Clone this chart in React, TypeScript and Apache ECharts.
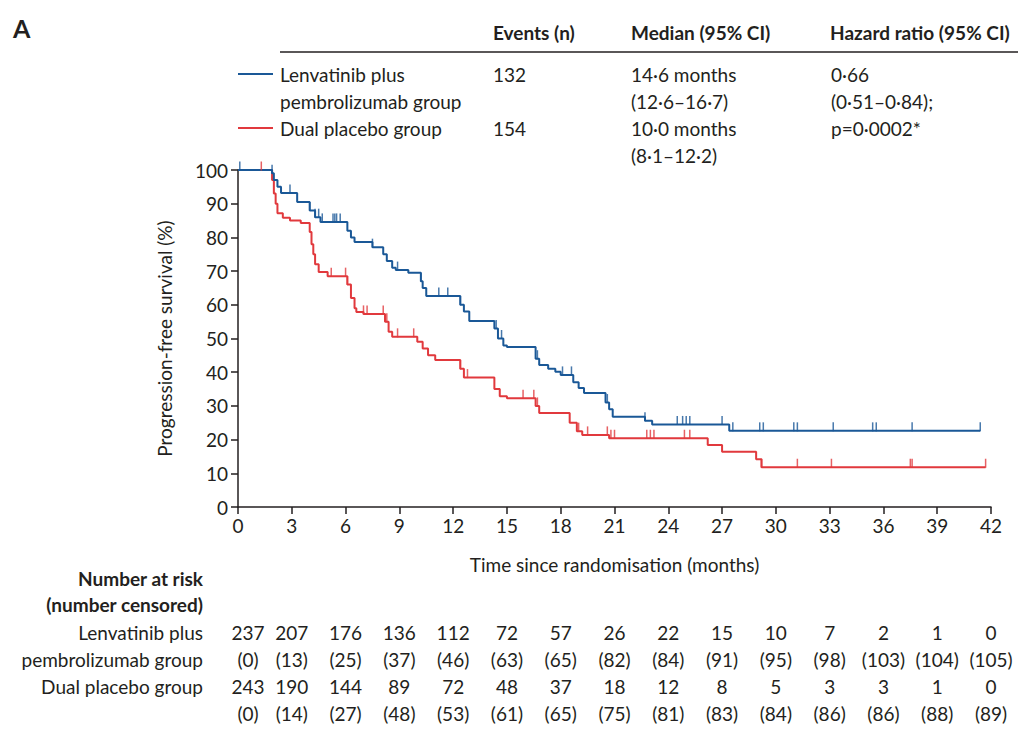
import React, { useEffect, useRef } from "react";
import * as echarts from "echarts";

const BLUE = "#1a5897";
const RED = "#e1393d";
const FONT = "Lato";
const FS = 19;

const xTicks = [0, 3, 6, 9, 12, 15, 18, 21, 24, 27, 30, 33, 36, 39, 42];

const blueTimes = [0, 1.9, 2.0, 2.2, 2.4, 3.3, 4.0, 4.3, 4.6, 6.1, 6.3, 6.5, 7.5, 8.1, 8.3, 8.6, 8.8, 9.5, 10.2, 10.3, 10.5, 12.4, 12.6, 12.9, 14.3, 14.5, 14.8, 15.0, 16.6, 16.8, 17.3, 17.7, 18.0, 18.7, 19.0, 19.3, 20.5, 20.7, 20.9, 22.7, 23.1, 27.4, 41.4];
const blueSurv = [100, 99, 97, 95, 93.2, 90.5, 88, 86, 84.6, 82, 80, 78.6, 77.1, 75, 73, 71, 70.3, 69.5, 67, 65, 62.6, 60, 58, 55.2, 53, 50, 47.9, 47.5, 44, 42.1, 41, 40.1, 39.2, 37, 35.3, 33.8, 31, 29, 26.8, 25.6, 24.5, 22.6, 22.6];

const redTimes = [0, 1.9, 2.0, 2.1, 2.2, 2.5, 2.9, 3.5, 4.0, 4.1, 4.2, 4.3, 4.5, 5.0, 6.1, 6.3, 6.5, 6.6, 7.0, 8.2, 8.4, 8.6, 10.0, 10.3, 10.6, 11.0, 12.4, 12.6, 14.3, 14.6, 15.0, 16.6, 16.8, 18.5, 18.9, 19.2, 20.7, 26.2, 27.0, 28.9, 29.2, 41.7];
const redSurv = [100, 97, 93, 90, 87.2, 85.8, 85, 84.3, 81.6, 78, 75, 72, 69.7, 68.5, 66, 62, 59, 57.9, 57.3, 55, 52, 50.5, 49, 47, 45, 43.6, 41, 38.4, 35, 32.9, 32.3, 30, 27.9, 25, 22.5, 21.4, 20.4, 18.4, 16.4, 14.2, 11.8, 11.8];

const blueCensor = [0.1, 1.9, 2.9, 4.0, 4.3, 4.5, 4.7, 5.3, 5.4, 5.5, 5.7, 7.5, 8.9, 10.2, 11.2, 11.7, 12.4, 14.4, 14.7, 16.7, 18.1, 18.6, 20.6, 22.7, 24.5, 24.8, 25.0, 25.2, 27.0, 27.6, 29.1, 29.3, 31.0, 31.2, 33.2, 35.4, 35.6, 37.6, 41.4];
const redCensor = [1.3, 5.2, 6.0, 6.1, 7.0, 7.2, 8.1, 8.3, 8.9, 9.8, 12.4, 12.8, 15.9, 16.5, 16.7, 19.0, 19.5, 20.6, 20.8, 21.0, 22.8, 23.0, 23.2, 24.9, 25.2, 29.2, 31.2, 33.1, 37.5, 37.6, 41.7];

const blueAtRisk = ["237", "207", "176", "136", "112", "72", "57", "26", "22", "15", "10", "7", "2", "1", "0"];
const blueCensored = ["(0)", "(13)", "(25)", "(37)", "(46)", "(63)", "(65)", "(82)", "(84)", "(91)", "(95)", "(98)", "(103)", "(104)", "(105)"];
const redAtRisk = ["243", "190", "144", "89", "72", "48", "37", "18", "12", "8", "5", "3", "3", "1", "0"];
const redCensored = ["(0)", "(14)", "(27)", "(48)", "(53)", "(61)", "(65)", "(75)", "(81)", "(83)", "(84)", "(86)", "(86)", "(88)", "(89)"];

function stepAt(times: number[], surv: number[], t: number) {
  let v = surv[0];
  for (let i = 0; i < times.length; i++) {
    if (times[i] <= t) v = surv[i];
  }
  return v;
}

export default function App() {
  const ref = useRef<HTMLDivElement>(null);
  useEffect(() => {
    const chart = echarts.init(ref.current!, null, { renderer: "svg" });
    const txt = { fontFamily: FONT, fontSize: FS, fill: "#231f20" };
    chart.setOption({
      animation: false,
      textStyle: { fontFamily: FONT },
      grid: { left: 238, right: 39, top: 170, bottom: 235 },
      xAxis: {
        type: "value", min: 0, max: 42, interval: 3,
        axisLine: { lineStyle: { color: "#231f20", width: 1.5 } },
        axisTick: { length: 7, lineStyle: { color: "#231f20", width: 1.5 } },
        axisLabel: { color: "#231f20", fontSize: FS, fontFamily: FONT, margin: 9 },
        splitLine: { show: false },
        name: "Time since randomisation (months)", nameLocation: "middle", nameGap: 48,
        nameTextStyle: { color: "#231f20", fontSize: FS, fontFamily: FONT },
      },
      yAxis: {
        type: "value", min: 0, max: 100, interval: 10,
        axisLine: { show: true, lineStyle: { color: "#231f20", width: 1.5 } },
        axisTick: { show: true, length: 7, lineStyle: { color: "#231f20", width: 1.5 } },
        axisLabel: { color: "#231f20", fontSize: FS, fontFamily: FONT, margin: 10 },
        splitLine: { show: false },
        name: "Progression-free survival (%)", nameLocation: "middle", nameGap: 64,
        nameTextStyle: { color: "#231f20", fontSize: FS, fontFamily: FONT },
      },
      series: [
        {
          type: "line", step: "end", showSymbol: false,
          data: blueTimes.map((t, i) => [t, blueSurv[i]]),
          lineStyle: { color: BLUE, width: 2 }, z: 3,
        },
        {
          type: "line", step: "end", showSymbol: false,
          data: redTimes.map((t, i) => [t, redSurv[i]]),
          lineStyle: { color: RED, width: 2 }, z: 2,
        },
        {
          type: "scatter", symbol: "rect", symbolSize: [1.5, 9], symbolOffset: [0, -4],
          data: blueCensor.map((t) => [t, stepAt(blueTimes, blueSurv, t)]),
          itemStyle: { color: BLUE }, z: 4,
        },
        {
          type: "scatter", symbol: "rect", symbolSize: [1.5, 9], symbolOffset: [0, -4],
          data: redCensor.map((t) => [t, stepAt(redTimes, redSurv, t)]),
          itemStyle: { color: RED }, z: 4,
        },
      ],
    });

    const px = (t: number) => chart.convertToPixel({ xAxisIndex: 0 }, t) as number;
    const g: any[] = [];
    g.push({ type: "text", left: 13, top: 15, style: { text: "A", fontFamily: FONT, fontSize: 25, fontWeight: "bold", fill: "#231f20" } });
    const hdr = [["Events (n)", 493], ["Median (95% CI)", 631], ["Hazard ratio (95% CI)", 830]] as const;
    hdr.forEach(([s, x]) => g.push({ type: "text", x, y: 32, style: { ...txt, text: s, fontWeight: "bold", verticalAlign: "middle" } }));
    g.push({ type: "line", shape: { x1: 280, y1: 52, x2: 1018, y2: 52 }, style: { stroke: "#231f20", lineWidth: 1.5 } });
    g.push({ type: "line", shape: { x1: 238, y1: 74, x2: 273, y2: 74 }, style: { stroke: BLUE, lineWidth: 2 } });
    g.push({ type: "line", shape: { x1: 238, y1: 128, x2: 273, y2: 128 }, style: { stroke: RED, lineWidth: 2 } });
    const cells: [string, number, number][] = [
      ["Lenvatinib plus", 280, 74], ["pembrolizumab group", 280, 101], ["Dual placebo group", 280, 128],
      ["132", 493, 74], ["154", 493, 128],
      ["14·6 months", 631, 74], ["(12·6–16·7)", 631, 101], ["10·0 months", 631, 128], ["(8·1–12·2)", 631, 155],
      ["0·66", 831, 74], ["(0·51–0·84);", 831, 101], ["p=0·0002*", 831, 128],
    ];
    cells.forEach(([s, x, y]) => g.push({ type: "text", x, y, style: { ...txt, text: s, verticalAlign: "middle" } }));

    const labels: [string, number, boolean][] = [
      ["Number at risk", 578, true], ["(number censored)", 604, true],
      ["Lenvatinib plus", 632, false], ["pembrolizumab group", 659, false], ["Dual placebo group", 686, false],
    ];
    labels.forEach(([s, y, b]) => g.push({ type: "text", x: 203, y, style: { ...txt, text: s, align: "right", verticalAlign: "middle", fontWeight: b ? "bold" : "normal" } }));
    const rows: [string[], number][] = [[blueAtRisk, 632], [blueCensored, 659], [redAtRisk, 686], [redCensored, 713]];
    rows.forEach(([arr, y]) => {
      arr.forEach((s, i) => {
        const x = px(xTicks[i]) + (i === 0 ? 10 : 0);
        g.push({ type: "text", x, y, style: { ...txt, text: s, align: "center", verticalAlign: "middle" } });
      });
    });
    chart.setOption({ graphic: g });
    return () => chart.dispose();
  }, []);
  return <div ref={ref} style={{ position: "fixed", left: 0, top: 0, width: 1030, height: 742, background: "#fff" }} />;
}
